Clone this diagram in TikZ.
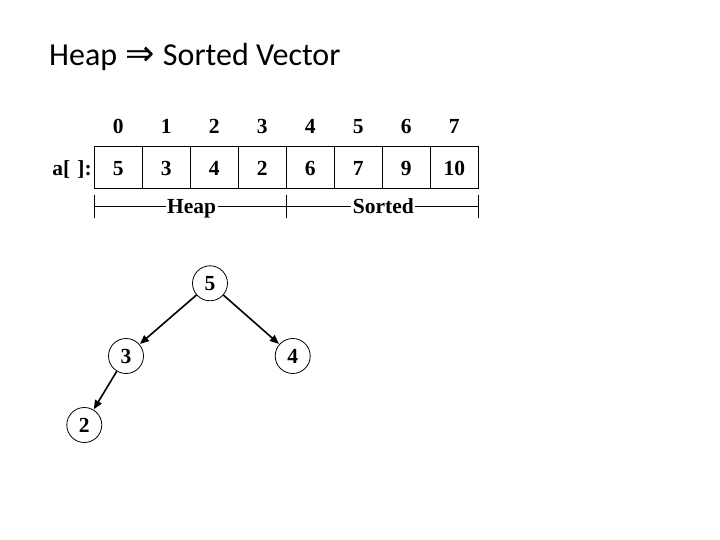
\documentclass[tikz,border=0pt]{standalone}
\usepackage{fontspec}
\setmainfont{Liberation Serif}
\newfontfamily\titlefont{Carlito}
\newfontfamily\arrowfont{DejaVu Sans}
\usetikzlibrary{arrows.meta}
\begin{document}
\begin{tikzpicture}[x=1pt,y=-1pt,
  txt/.style={font=\fontsize{21.5}{21.5}\selectfont\bfseries,inner sep=0pt},
  cell/.style={draw,line width=0.8pt,minimum width=48pt,minimum height=41.6pt,inner sep=0pt},
  tnode/.style={draw,circle,line width=0.8pt,minimum size=35pt,inner sep=0pt,font=\fontsize{21.5}{21.5}\selectfont\bfseries},
  tedge/.style={line width=1.6pt,-{Triangle[length=9pt,width=7.5pt]},shorten >=0.5pt},
  brk/.style={line width=0.8pt}]
\useasboundingbox (0,0) rectangle (720,540);
\node[anchor=base west,inner sep=0pt,font=\titlefont\fontsize{32}{32}\selectfont] (title) at (49,66) {Heap\hspace{1pt} {\arrowfont\fontsize{35}{35}\selectfont ⇒}\hspace{1pt} Sorted Vector};
\node[txt,anchor=base east] (alabel) at (92,176) {a[\,\,]:};
\foreach \i/\v in {0/5,1/3,2/4,3/2,4/6,5/7,6/9,7/10}{
  \node[cell] (c\i) at ({118.3+48*\i},167.5) {};
  \node[txt,anchor=base] (v\i) at ({118.3+48*\i},176) {\v};
  \node[txt,anchor=base] (i\i) at ({118.3+48*\i},133.5) {\i};
}
% bracket
\coordinate (t0a) at (94.3,195); \coordinate (t0b) at (94.3,218);
\coordinate (t1a) at (286.7,195); \coordinate (t1b) at (286.7,218);
\coordinate (t2a) at (478.3,195); \coordinate (t2b) at (478.3,218);
\draw[brk] (t0a) -- (t0b);
\draw[brk] (t1a) -- (t1b);
\draw[brk] (t2a) -- (t2b);
\node[txt,anchor=base,inner xsep=1.5pt] (heap) at (191.7,213.5) {Heap};
\node[txt,anchor=base,inner xsep=1.5pt] (sorted) at (383.3,213.5) {Sorted};
\coordinate (m0) at (94.3,206.7); \coordinate (m1) at (286.7,206.7); \coordinate (m2) at (478.3,206.7);
\draw[brk] (m0) -- (heap.west |- m0);
\draw[brk] (heap.east |- m0) -- (m1);
\draw[brk] (m1) -- (sorted.west |- m1);
\draw[brk] (sorted.east |- m1) -- (m2);
% tree
\node[tnode] (n5) at (210,283.3) {5};
\node[tnode] (n3) at (126,356) {3};
\node[tnode] (n4) at (292.7,356) {4};
\node[tnode] (n2) at (84.3,425) {2};
\draw[tedge] (n5) -- (n3);
\draw[tedge] (n5) -- (n4);
\draw[tedge] (n3) -- (n2);
\end{tikzpicture}
\end{document}
